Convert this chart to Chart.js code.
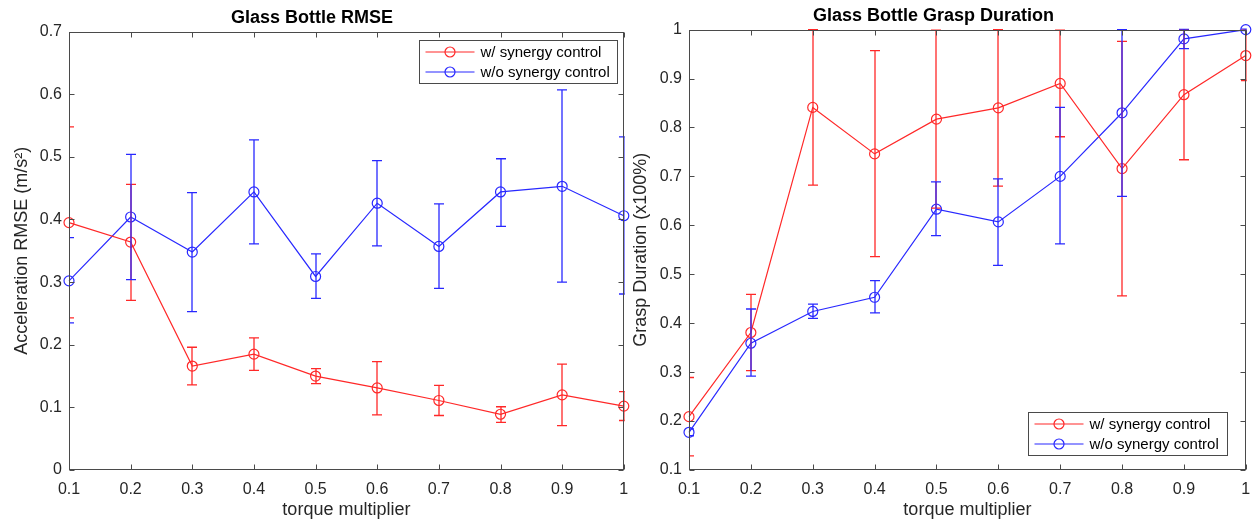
<!DOCTYPE html>
<html><head><meta charset="utf-8">
<script src="https://cdn.jsdelivr.net/npm/chart.js@4"></script>
<style>
html,body{margin:0;padding:0;background:#fff;}
#wrap{position:relative;width:1252px;height:527px;overflow:hidden;}
.box{position:absolute;top:0;height:527px;}
</style></head><body>
<div id="wrap">
<div class="box" style="left:0;width:630px"><canvas id="c1"></canvas></div>
<div class="box" style="left:620px;width:632px"><canvas id="c2"></canvas></div>
</div>
<script>
// ---- data ----
const torque = [0.1,0.2,0.3,0.4,0.5,0.6,0.7,0.8,0.9,1.0];
const xTickValues = [0.1,0.2,0.3,0.4,0.5,0.6,0.7,0.8,0.9,1.0];
const seriesLabels = ['w/ synergy control','w/o synergy control'];

const rmseWith      = [0.395,0.364,0.166,0.185,0.150,0.131,0.111,0.089,0.120,0.102];
const rmseWithLow   = [0.243,0.271,0.136,0.159,0.138,0.088,0.087,0.076,0.071,0.079];
const rmseWithHigh  = [0.548,0.456,0.196,0.211,0.162,0.173,0.135,0.101,0.169,0.125];
const rmseWithout     = [0.302,0.404,0.348,0.444,0.309,0.426,0.357,0.444,0.453,0.406];
const rmseWithoutLow  = [0.235,0.304,0.253,0.361,0.274,0.358,0.290,0.389,0.300,0.281];
const rmseWithoutHigh = [0.371,0.504,0.443,0.527,0.345,0.494,0.425,0.497,0.607,0.532];
const rmseYTicks = [0,0.1,0.2,0.3,0.4,0.5,0.6,0.7];

const graspWith      = [0.209,0.381,0.841,0.746,0.817,0.840,0.890,0.716,0.867,0.947];
const graspWithLow   = [0.129,0.303,0.682,0.536,0.635,0.680,0.781,0.456,0.734,0.896];
const graspWithHigh  = [0.289,0.459,1.000,0.957,0.999,1.000,0.999,0.976,1.000,0.999];
const graspWithout     = [0.177,0.359,0.424,0.453,0.633,0.607,0.700,0.830,0.981,1.000];
const graspWithoutLow  = [0.170,0.292,0.410,0.421,0.579,0.518,0.562,0.659,0.961,0.998];
const graspWithoutHigh = [0.184,0.429,0.439,0.487,0.689,0.695,0.841,1.000,1.001,1.002];
const graspYTicks = [0.1,0.2,0.3,0.4,0.5,0.6,0.7,0.8,0.9,1];

// ---- style ----
const RED = 'rgb(255,40,40)';
const BLUE = 'rgb(40,40,255)';
const FAMILY = '"Liberation Sans", Arial, Helvetica, sans-serif';
const AXIS = '#4a4a4a';
const TXT = '#262626';
const fmt = v => String(Math.round(v*10)/10);

const matlabPlugin = {
  id: 'matlab',
  afterDatasetsDraw(chart, args, opts) {
    const {ctx, chartArea: a, scales: {x, y}} = chart;
    ctx.save();
    ctx.beginPath();
    ctx.rect(a.left, a.top - 1, a.right - a.left + 1, a.bottom - a.top + 2);
    ctx.clip();
    ctx.lineWidth = 1.3;
    (opts.errors || []).forEach(e => {
      ctx.strokeStyle = e.color;
      torque.forEach((xv, i) => {
        const px = Math.round(x.getPixelForValue(xv));
        const pl = y.getPixelForValue(e.low[i]);
        const ph = y.getPixelForValue(e.high[i]);
        ctx.beginPath();
        ctx.moveTo(px, pl); ctx.lineTo(px, ph);
        ctx.moveTo(px - 5, pl); ctx.lineTo(px + 5, pl);
        ctx.moveTo(px - 5, ph); ctx.lineTo(px + 5, ph);
        ctx.stroke();
      });
    });
    ctx.restore();
  },
  afterDraw(chart, args, opts) {
    const {ctx, chartArea: a, scales: {x, y}} = chart;
    ctx.save();
    ctx.strokeStyle = AXIS;
    ctx.lineWidth = 1;
    const L = Math.round(a.left) + 0.5, R = Math.round(a.right) - 0.5;
    const T = Math.round(a.top) + 0.5, B = Math.round(a.bottom) - 0.5;
    ctx.strokeRect(L, T, R - L, B - T);
    ctx.beginPath();
    x.ticks.forEach(t => {
      const px = Math.round(x.getPixelForValue(t.value)) + 0.5;
      ctx.moveTo(px, B); ctx.lineTo(px, B - 5);
      ctx.moveTo(px, T); ctx.lineTo(px, T + 5);
    });
    y.ticks.forEach(t => {
      const py = Math.round(y.getPixelForValue(t.value)) + 0.5;
      ctx.moveTo(L, py); ctx.lineTo(L + 5, py);
      ctx.moveTo(R, py); ctx.lineTo(R - 5, py);
    });
    ctx.stroke();

    // legend
    const lg = opts.legend;
    if (lg) {
      const w = lg.w, h = lg.h;
      const bx = Math.round(a.right - lg.right - w) + 0.5;
      const by = lg.top !== undefined ? Math.round(a.top + lg.top) + 0.5 : Math.round(a.bottom - lg.bottom - h) + 0.5;
      ctx.fillStyle = '#fff';
      ctx.fillRect(bx, by, w, h);
      ctx.strokeStyle = AXIS;
      ctx.strokeRect(bx, by, w, h);
      chart.data.datasets.forEach((ds, i) => {
        const ry = by + 11.5 + i * 20;
        ctx.strokeStyle = ds.borderColor;
        ctx.lineWidth = 1.2;
        ctx.beginPath();
        ctx.moveTo(bx + 6, ry); ctx.lineTo(bx + 55, ry);
        ctx.stroke();
        ctx.beginPath();
        ctx.arc(bx + 30.5, ry, 5, 0, Math.PI * 2);
        ctx.stroke();
        ctx.fillStyle = '#000';
        ctx.font = '15px ' + FAMILY;
        ctx.textBaseline = 'middle';
        ctx.textAlign = 'left';
        ctx.fillText(ds.label, bx + 61, ry + 0.5);
      });
    }
    ctx.restore();
  }
};

function ds(label, vals, color) {
  return {
    label: label,
    data: torque.map((t, i) => ({x: t, y: vals[i]})),
    borderColor: color,
    borderWidth: 1.2,
    pointStyle: 'circle',
    pointRadius: 5,
    pointHoverRadius: 5,
    pointBorderWidth: 1.2,
    pointBorderColor: color,
    pointBackgroundColor: 'rgba(0,0,0,0)',
    fill: false,
    tension: 0,
    clip: false
  };
}

function makeChart(id, cfg) {
  return new Chart(document.getElementById(id), {
    type: 'line',
    data: {datasets: [ds(seriesLabels[0], cfg.w, RED), ds(seriesLabels[1], cfg.wo, BLUE)]},
    options: {
      responsive: true,
      maintainAspectRatio: false,
      animation: false,
      events: [],
      layout: {padding: {left: 0, right: cfg.padRight, top: 0, bottom: 0}},
      plugins: {
        legend: {display: false},
        tooltip: {enabled: false},
        title: {
          display: true, text: cfg.title, color: '#000',
          font: {size: 18, weight: 'bold', family: FAMILY},
          padding: cfg.titlePad
        },
        matlab: {errors: cfg.errors, legend: cfg.legend}
      },
      scales: {
        x: {
          type: 'linear', min: 0.1, max: 1,
          afterBuildTicks: s => { s.ticks = xTickValues.map(v => ({value: v})); },
          afterFit: s => { s.height = 57; s.paddingLeft = 0; s.paddingRight = 0; },
          grid: {display: false, drawTicks: false},
          border: {display: false},
          ticks: {color: TXT, font: {size: 16, family: FAMILY}, padding: 10, maxRotation: 0, autoSkip: false, callback: v => fmt(v)},
          title: {display: true, text: 'torque multiplier', color: TXT, font: {size: 18, family: FAMILY}, padding: {top: 0, bottom: 6}}
        },
        y: {
          type: 'linear', min: cfg.yTicks[0], max: cfg.yTicks[cfg.yTicks.length - 1],
          afterBuildTicks: s => { s.ticks = cfg.yTicks.map(v => ({value: v})); },
          afterFit: s => { s.width = 69; },
          grid: {display: false, drawTicks: false},
          border: {display: false},
          ticks: {color: TXT, font: {size: 16, family: FAMILY}, padding: 7, autoSkip: false, callback: v => fmt(v)},
          title: {display: true, text: cfg.yTitle, color: TXT, font: {size: 18, family: FAMILY}, padding: {top: cfg.yTitlePad, bottom: 0}}
        }
      }
    },
    plugins: [matlabPlugin]
  });
}

makeChart('c1', {
  title: 'Glass Bottle RMSE',
  titlePad: {top: 7, bottom: 3},
  padRight: 6,
  w: rmseWith, wo: rmseWithout,
  yTicks: rmseYTicks,
  yTitle: 'Acceleration RMSE (m/s²)',
  yTitlePad: 11,
  errors: [
    {color: RED, low: rmseWithLow, high: rmseWithHigh},
    {color: BLUE, low: rmseWithoutLow, high: rmseWithoutHigh}
  ],
  legend: {right: 7, top: 8, w: 198, h: 43}
});

makeChart('c2', {
  title: 'Glass Bottle Grasp Duration',
  titlePad: {top: 5, bottom: 3},
  padRight: 5,
  w: graspWith, wo: graspWithout,
  yTicks: graspYTicks,
  yTitle: 'Grasp Duration (x100%)',
  yTitlePad: 10,
  errors: [
    {color: RED, low: graspWithLow, high: graspWithHigh},
    {color: BLUE, low: graspWithoutLow, high: graspWithoutHigh}
  ],
  legend: {right: 19, bottom: 15, w: 199, h: 43}
});
</script>
</body></html>
